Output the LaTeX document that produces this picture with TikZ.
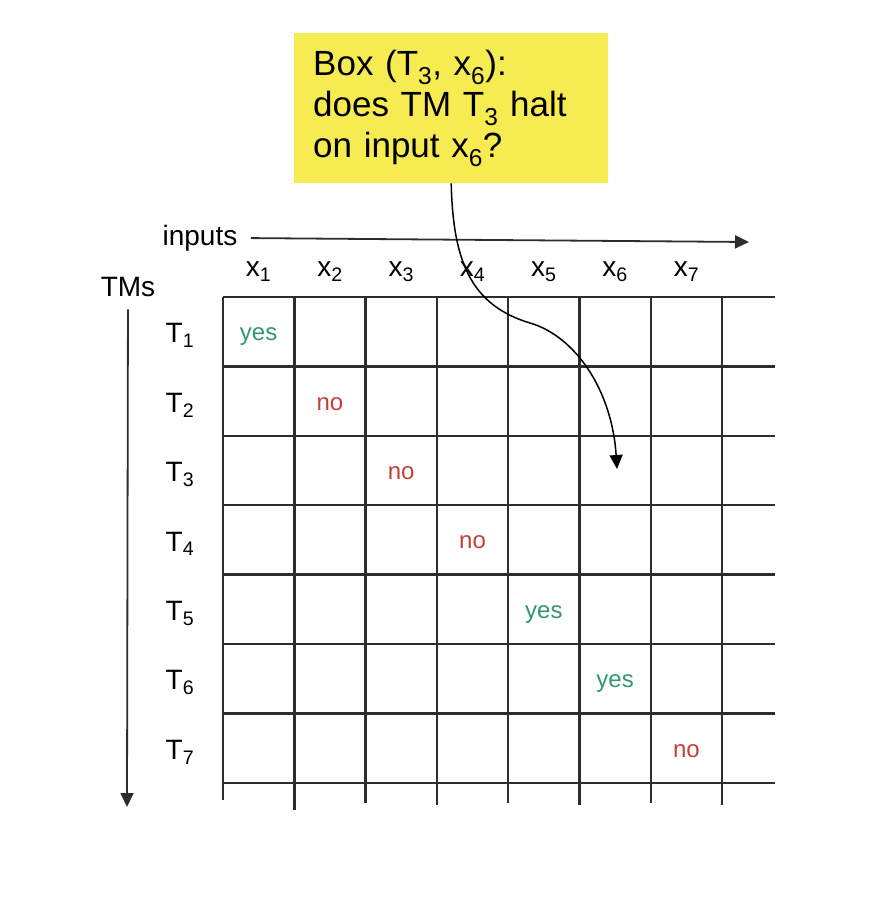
\documentclass[tikz,border=0pt]{standalone}
\usepackage{fontspec}
\setmainfont{Liberation Sans}
\usetikzlibrary{arrows.meta}
\definecolor{boxyellow}{RGB}{246,236,82}
\definecolor{yesgreen}{RGB}{52,150,118}
\definecolor{nored}{RGB}{192,66,56}
\definecolor{gridgray}{RGB}{45,45,45}
\begin{document}
\begin{tikzpicture}[x=1pt,y=-1pt,
  gridline/.style={line width=2.4pt, draw=gridgray},
  lbl/.style={font=\fontsize{28}{28}\selectfont},
  ans/.style={font=\fontsize{24}{24}\selectfont, anchor=base},
  tip/.style={-{Triangle[length=14pt,width=13pt]}}]
  \useasboundingbox[fill=white] (0,0) rectangle (892,898);
  % grid
  \foreach \i in {0,...,7}
    \draw[gridline] (223,297+69.4*\i) -- (775,297+69.4*\i);
  \foreach \i/\e in {0/800,1/810,2/803,3/805,4/803,5/805,6/803,7/805}
    \draw[gridline] (223+71.3*\i,297) -- (223+71.3*\i,\e);
  % inputs, TMs
  \foreach \i in {1,...,7}
    \node[lbl] (x\i) at (187.35+71.3*\i,272) {x\textsubscript{\i}};
  \foreach \i in {1,...,7}
    \node[lbl] (t\i) at (180,266.3+69.4*\i) {T\textsubscript{\i}};
  % diagonal
  \foreach \i/\a/\c in {1/yes/yesgreen,2/no/nored,3/no/nored,4/no/nored,5/yes/yesgreen,6/yes/yesgreen,7/no/nored}
    \node[ans, text=\c] (a\i) at (187.35+71.3*\i,271.3+69.4*\i) {\a};
  % axes
  \node[lbl] (inputs) at (200,238) {inputs};
  \coordinate (inend) at (749,242);
  \draw[line width=1.8pt, gridgray, tip, shorten <=10pt] (inputs.east) -- (inend);
  \node[lbl] (tms) at (128,287) {TMs};
  \coordinate (tmend) at (127,807);
  \draw[line width=1.8pt, gridgray, tip, shorten <=9pt] (tms) -- (tmend);
  % box
  \node[fill=boxyellow, anchor=north west, minimum width=314pt, minimum height=150pt,
    text width=276pt, inner xsep=19pt, align=left, font=\fontsize{35}{41}\selectfont]
    (box) at (294,33) {Box (T\textsubscript{3}, x\textsubscript{6}):\\does TM T\textsubscript{3} halt\\on input x\textsubscript{6}?};
  \coordinate (cell) at (617,469);
  \draw[line width=1.5pt, tip] (box.south) .. controls (453,260) and (470,305) .. (530,323)
    .. controls (575,336) and (612,390) .. (cell);
\end{tikzpicture}
\end{document}
